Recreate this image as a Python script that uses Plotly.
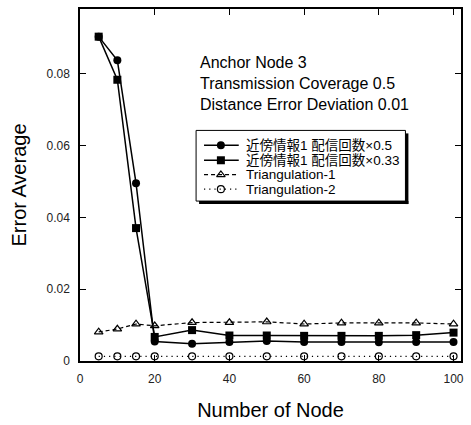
import plotly.graph_objects as go

# Number of nodes
nodes = [5, 10, 15, 20, 30, 40, 50, 60, 70, 80, 90, 100]

# Error averages per method
near_05 = [0.0903, 0.0837, 0.0495, 0.0054, 0.0048, 0.0053, 0.0056, 0.0053, 0.0053, 0.0052, 0.0053, 0.0053]
near_033 = [0.0903, 0.0783, 0.0370, 0.0067, 0.0086, 0.0071, 0.0071, 0.0070, 0.0070, 0.0070, 0.0072, 0.0079]
tri_1 = [0.0081, 0.0089, 0.0103, 0.0098, 0.0107, 0.0107, 0.0109, 0.0103, 0.0106, 0.0106, 0.0106, 0.0103]
tri_2 = [0.0013, 0.0013, 0.0013, 0.0013, 0.0013, 0.0013, 0.0013, 0.0013, 0.0013, 0.0013, 0.0013, 0.0013]

names = ["近傍情報1 配信回数×0.5", "近傍情報1 配信回数×0.33", "Triangulation-1", "Triangulation-2"]
x_ticks = [0, 20, 40, 60, 80, 100]
y_ticks = [0, 0.02, 0.04, 0.06, 0.08]
y_ticktext = ["0", "0.02", "0.04", "0.06", "0.08"]

FONT = "Liberation Sans, Noto Sans CJK JP, sans-serif"

# Per-series styling
styles = [
    dict(line=dict(color="black", width=1.5),
         marker=dict(symbol="circle", size=8, color="black")),
    dict(line=dict(color="black", width=1.5),
         marker=dict(symbol="square", size=8, color="black")),
    dict(line=dict(color="black", width=1.2, dash="4px,3px"),
         marker=dict(symbol="triangle-up-open", size=7.5, color="black", line=dict(width=1.2))),
    dict(line=dict(color="black", width=1.2, dash="1.2px,4px"),
         marker=dict(symbol="circle-open", size=7, color="black", line=dict(width=1.2))),
]
series = [near_05, near_033, tri_1, tri_2]

fig = go.Figure()
for name, ys, st in zip(names, series, styles):
    fig.add_trace(go.Scatter(x=nodes, y=ys, name=name, mode="lines+markers",
                             showlegend=False, **st))

axis_common = dict(showline=True, linecolor="black", linewidth=1.5, mirror="ticks",
                   ticks="inside", ticklen=6, tickwidth=1, tickcolor="black",
                   showgrid=False, zeroline=False,
                   tickfont=dict(family=FONT, size=12, color="#222"))

fig.update_xaxes(range=[0, 102], tickvals=x_ticks, ticktext=[str(v) for v in x_ticks],
                 title=dict(text="Number of Node", font=dict(family=FONT, size=20, color="black"),
                            standoff=18),
                 ticklabelstandoff=6, **axis_common)
fig.update_yaxes(range=[0, 0.098], tickvals=y_ticks, ticktext=y_ticktext,
                 title=dict(text="Error Average", font=dict(family=FONT, size=20, color="black"),
                            standoff=14),
                 ticklabelstandoff=6, **axis_common)

# Overlay axes in screen-pixel units for the boxed key
PL, PR, PT, PB = 80, 464, 9, 362.7
fig.update_layout(
    xaxis2=dict(overlaying="x", range=[PL, PR], visible=False, fixedrange=True),
    yaxis2=dict(overlaying="y", range=[PB, PT], visible=False, fixedrange=True),
)

# Key box with drop shadow (shadow as two strips along the right and bottom edges)
BX0, BX1, BY0, BY1, SH = 197, 408, 131, 202, 3
fig.add_shape(type="rect", xref="x2", yref="y2", x0=BX0, x1=BX1, y0=BY0, y1=BY1,
              fillcolor="white", line=dict(color="black", width=1), layer="below")
fig.add_shape(type="rect", xref="x2", yref="y2", x0=BX1, x1=BX1 + SH, y0=BY0 + SH, y1=BY1 + SH,
              fillcolor="black", line=dict(width=0), layer="above")
fig.add_shape(type="rect", xref="x2", yref="y2", x0=BX0 + SH, x1=BX1 + SH, y0=BY1, y1=BY1 + SH,
              fillcolor="black", line=dict(width=0), layer="above")

rows = [146, 161, 175.5, 190]
SX0, SX1, SXM, TX = 205, 240, 222, 245
for name, row, st in zip(names, rows, styles):
    fig.add_trace(go.Scatter(x=[SX0, SX1], y=[row, row], mode="lines", line=st["line"],
                             xaxis="x2", yaxis="y2", showlegend=False, hoverinfo="skip"))
    fig.add_trace(go.Scatter(x=[SXM], y=[row], mode="markers", marker=st["marker"],
                             xaxis="x2", yaxis="y2", showlegend=False, hoverinfo="skip"))
    fig.add_annotation(xref="x2", yref="y2", x=TX, y=row, xanchor="left", yanchor="middle",
                       showarrow=False, text=name,
                       font=dict(family=FONT, size=13.5, color="black"))

# Condition note
fig.add_annotation(xref="x2", yref="y2", x=199, y=52, xanchor="left", yanchor="top",
                   align="left", showarrow=False,
                   text="Anchor Node 3<br>Transmission Coverage 0.5<br>Distance Error Deviation 0.01",
                   font=dict(family=FONT, size=16, color="black"))

fig.update_layout(
    width=471, height=425,
    margin=dict(l=80, r=7, t=9, b=62),
    paper_bgcolor="white", plot_bgcolor="rgba(0,0,0,0)",
    showlegend=False,
)

fig.write_html("out.html")
